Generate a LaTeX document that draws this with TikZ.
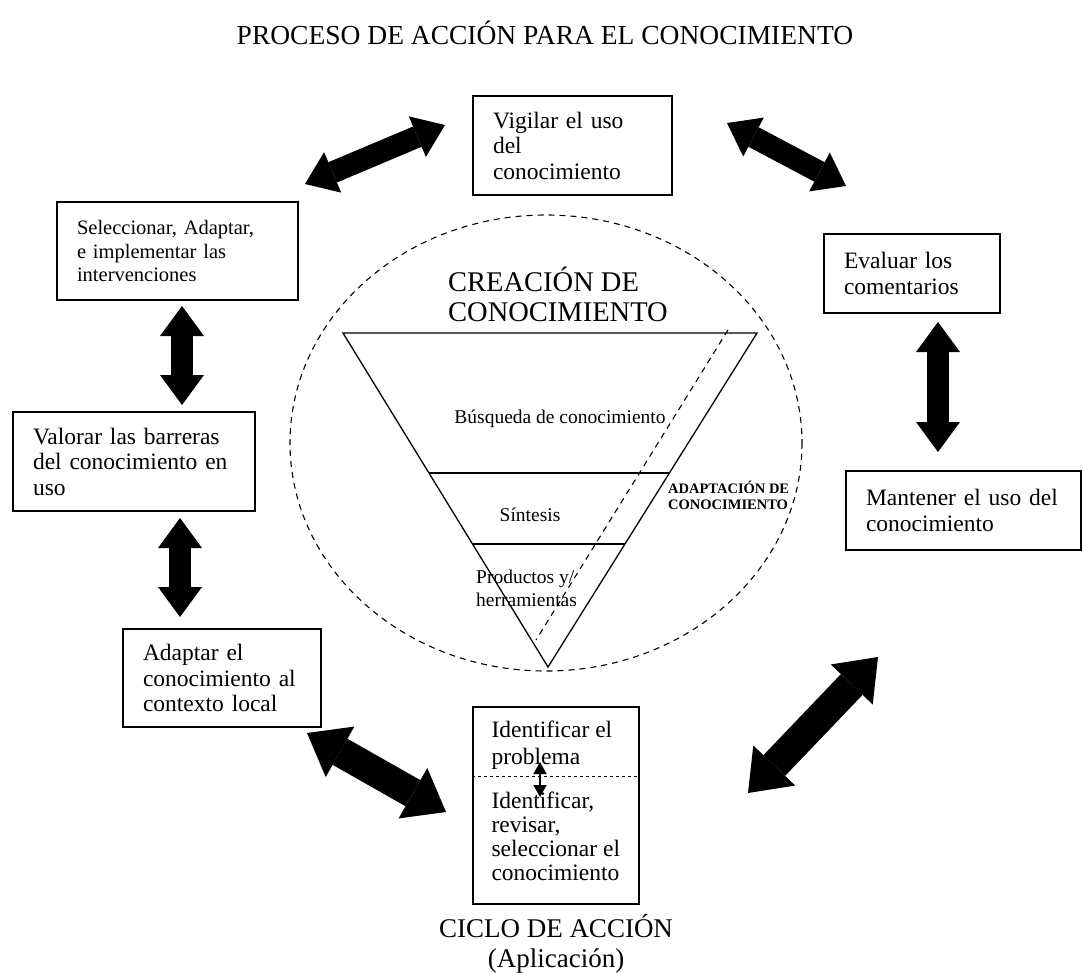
\documentclass[tikz,border=0pt]{standalone}
\usepackage{fontspec}
\setmainfont{Liberation Serif}
\usepackage{tikz}
\usetikzlibrary{arrows.meta,positioning,calc}

\begin{document}
\begin{tikzpicture}[
    x=1pt, y=-1pt,
    kbox/.style={rectangle, draw, line width=1.4pt, align=left,
        inner xsep=20pt, inner ysep=0pt,
        font=\fontsize{23.5}{25.5}\selectfont},
    ktext/.style={inner sep=0pt, align=left, font=\fontsize{23.5}{25.5}\selectfont},
    funtext/.style={inner sep=0pt, align=left, font=\fontsize{19.5}{23}\selectfont},
    bigarrow/.style={line width=22pt,
        {Triangle[length=30pt,width=44pt,line width=0pt]}-{Triangle[length=30pt,width=44pt,line width=0pt]}},
    hugearrow/.style={line width=30pt,
        {Triangle[length=38pt,width=58pt,line width=0pt]}-{Triangle[length=38pt,width=58pt,line width=0pt]}}
]
\useasboundingbox (0,0) rectangle (1083,973);

\node[font=\fontsize{27.5}{30}\selectfont, anchor=base] (title) at (545,45) {PROCESO DE ACCIÓN PARA EL CONOCIMIENTO};

% knowledge creation funnel
\draw[dash pattern=on 6pt off 5pt, line width=1.1pt] (546,443) ellipse [x radius=256, y radius=228];
\coordinate (tl) at (343,333);
\coordinate (tr) at (757,333);
\coordinate (tb) at (548,667);
\draw[line width=1.3pt] (tl) -- (tr) -- (tb) -- cycle;
\draw[line width=1.3pt] ($(tl)!0.419!(tb)$) -- ($(tr)!0.419!(tb)$);
\draw[line width=1.3pt] ($(tl)!0.632!(tb)$) -- ($(tr)!0.632!(tb)$);
\draw[dash pattern=on 6pt off 5pt, line width=1.1pt] (728,330) -- (536,640);

\node[font=\fontsize{28.5}{30}\selectfont, inner sep=0pt, align=left, anchor=west] (crea) at (448,294) {CREACIÓN DE\\CONOCIMIENTO};
\node[funtext, anchor=base] (busq) at (560,423) {Búsqueda de conocimiento};
\node[funtext, anchor=base] (sint) at (530,521) {Síntesis};
\node[funtext, anchor=west] (prod) at (476,588) {Productos y/\\herramientas};
\node[inner sep=0pt, align=left, anchor=west, font=\bfseries\fontsize{14.5}{16}\selectfont] (adap) at (668,495) {ADAPTACIÓN DE\\CONOCIMIENTO};

% action cycle
\node[kbox, text width=159pt, minimum height=99pt] (vig) at (572.5,145.5) {Vigilar el uso\\del\\conocimiento};
\node[kbox, text width=201pt, minimum height=98pt, font=\fontsize{20.5}{23.5}\selectfont] (sel) at (177.5,251) {Seleccionar, Adaptar,\\e implementar las\\intervenciones};
\node[kbox, text width=136pt, minimum height=79pt] (eva) at (912,273.5) {Evaluar los\\comentarios};
\node[kbox, text width=202pt, minimum height=99pt] (val) at (134,461.5) {Valorar las barreras\\del conocimiento en\\uso};
\node[kbox, text width=195pt, minimum height=79pt] (man) at (963.5,510.5) {Mantener el uso del\\conocimiento};
\node[kbox, text width=158pt, minimum height=98pt] (ada) at (222,678) {Adaptar el\\conocimiento al\\contexto local};
\node[draw, line width=1.4pt, minimum width=166pt, minimum height=197pt] (idf) at (556,805.5) {};
\node[ktext, anchor=north west, font=\fontsize{23.5}{27}\selectfont] (prob) at ([shift={(19,14)}]idf.north west) {Identificar el\\problema};
\node[ktext, anchor=north west, font=\fontsize{23.5}{24}\selectfont] (revi) at ([shift={(19,85)}]idf.north west) {Identificar,\\revisar,\\seleccionar el\\conocimiento};
\draw[dashed, line width=1pt] ([yshift=-70pt]idf.north west) -- ([yshift=-70pt]idf.north east);
\coordinate (pr1) at (540,762);
\coordinate (pr2) at (540,797);
\draw[line width=1.4pt, {Triangle[length=12pt,width=13pt]}-{Triangle[length=12pt,width=13pt]}] (pr1) -- (pr2);

\node[font=\fontsize{27}{30}\selectfont, align=center, inner sep=0pt] (ciclo) at (556,944) {CICLO DE ACCIÓN\\(Aplicación)};

% block arrows between the steps
\coordinate (sv1) at (305,184);
\coordinate (sv2) at (445,125);
\coordinate (ve1) at (727,123);
\coordinate (ve2) at (846,186);
\coordinate (sl1) at (182,306);
\coordinate (sl2) at (182,405);
\coordinate (va1) at (180,518);
\coordinate (va2) at (180,617);
\coordinate (em1) at (938,322);
\coordinate (em2) at (938,452);
\coordinate (ai1) at (307,733);
\coordinate (ai2) at (446,812);
\coordinate (im1) at (748,793);
\coordinate (im2) at (878,657);
\draw[bigarrow] (sv1) -- (sv2);
\draw[bigarrow] (ve1) -- (ve2);
\draw[bigarrow] (sl1) -- (sl2);
\draw[bigarrow] (va1) -- (va2);
\draw[bigarrow] (em1) -- (em2);
\draw[hugearrow] (ai1) -- (ai2);
\draw[hugearrow] (im1) -- (im2);
\end{tikzpicture}
\end{document}
